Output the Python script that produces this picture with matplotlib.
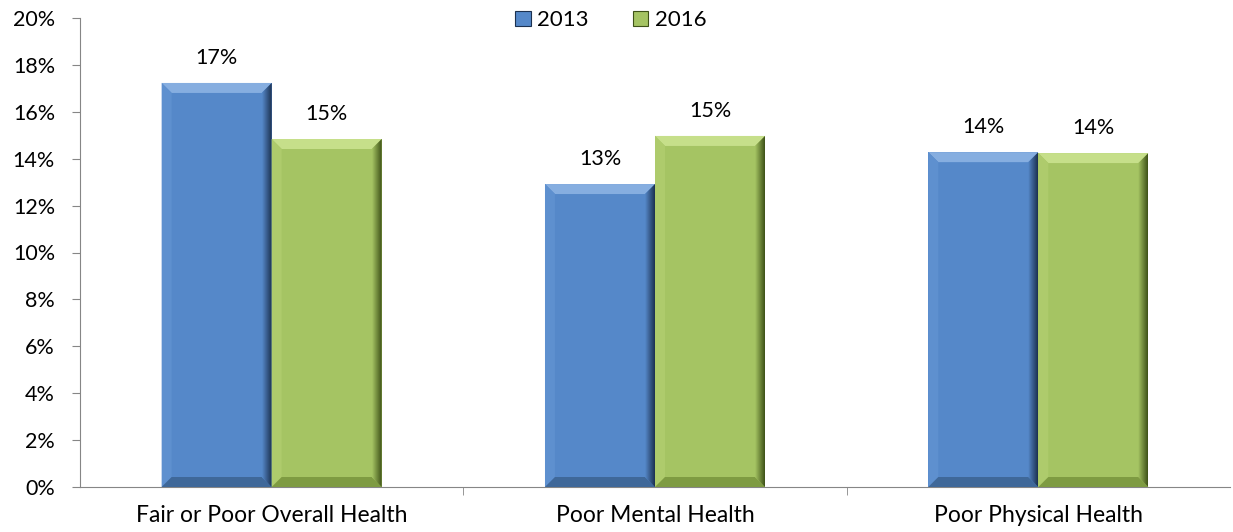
import numpy as np
import matplotlib.pyplot as plt
from matplotlib.patches import Polygon, Patch
from matplotlib.colors import LinearSegmentedColormap
from matplotlib.ticker import FuncFormatter, MultipleLocator

plt.rcParams['font.family'] = ['Lato', 'DejaVu Sans']

categories = ['Fair or Poor Overall Health', 'Poor Mental Health', 'Poor Physical Health']
years = ['2013', '2016']
vals_2013 = [0.1723, 0.1292, 0.1428]
vals_2016 = [0.1484, 0.1497, 0.1424]

face = {'2013': '#5588C9', '2016': '#A5C463'}
light = {'2013': '#86AEE0', '2016': '#C6DF8A'}
side = {'2013': '#5E90CF', '2016': '#AECB6C'}
dark = {'2013': '#1C3150', '2016': '#3E5218'}
bottom_c = {'2013': '#3F6899', '2016': '#7E9B42'}

fig = plt.figure(figsize=(12.33, 5.32), dpi=100)
ax = fig.add_axes([80 / 1233, 45 / 532, 1150 / 1233, 469 / 532])

x = np.arange(len(categories))
w = 0.287
off = 0.1435
dx = 10 / 383.5          # bevel width in data units (~10 px)
dy = 10 / 469 * 0.20     # bevel height in data units (~10 px)


def bevel_bar(xc, h, yr):
    x0, x1 = xc - w / 2, xc + w / 2
    ax.bar(xc, h, w, color=face[yr], zorder=2)
    polys = [
        ([(x0, h), (x1, h), (x1 - dx, h - dy), (x0 + dx, h - dy)], light[yr]),
        ([(x0, 0), (x0, h), (x0 + dx, h - dy), (x0 + dx, dy)], side[yr]),
        ([(x0, 0), (x1, 0), (x1 - dx, dy), (x0 + dx, dy)], bottom_c[yr]),
    ]
    for pts, c in polys:
        ax.add_patch(Polygon(pts, closed=True, facecolor=c, edgecolor='none', zorder=3))
    # right side with a dark gradient
    rp = Polygon([(x1, 0), (x1, h), (x1 - dx, h - dy), (x1 - dx, dy)], closed=True,
                 facecolor='none', edgecolor='none', zorder=3)
    ax.add_patch(rp)
    cmap = LinearSegmentedColormap.from_list('g', [face[yr], dark[yr]])
    im = ax.imshow(np.linspace(0, 1, 50).reshape(1, -1), cmap=cmap, aspect='auto',
                   extent=[x1 - dx, x1, 0, h], zorder=3)
    im.set_clip_path(rp)
    ax.annotate(f'{h * 100:.0f}%', (xc, h), xytext=(0, 14), textcoords='offset points',
                ha='center', va='baseline', fontsize=15.5)


for i in range(len(categories)):
    bevel_bar(x[i] - off, vals_2013[i], '2013')
    bevel_bar(x[i] + off, vals_2016[i], '2016')

ax.set_xlim(-0.5, 2.5)
ax.set_ylim(0, 0.20)
ax.yaxis.set_major_locator(MultipleLocator(0.02))
ax.yaxis.set_major_formatter(FuncFormatter(lambda v, p: f'{v * 100:.0f}%'))
ax.set_xticks(x)
ax.set_xticklabels(categories)
ax.set_xticks([0.5, 1.5], minor=True)
ax.tick_params(axis='x', which='major', length=0, pad=13, labelsize=16.5)
ax.tick_params(axis='x', which='minor', length=6, color='#868686', direction='out')
ax.tick_params(axis='y', length=6, color='#868686', labelsize=15.5, pad=12)
for s in ['top', 'right']:
    ax.spines[s].set_visible(False)
for s in ['left', 'bottom']:
    ax.spines[s].set_color('#868686')

handles = [Patch(facecolor=face[y], edgecolor=dark[y], linewidth=0.8) for y in years]
fig.legend(handles, years, loc='center', bbox_to_anchor=(611 / 1233, 1 - 20 / 532),
           ncol=2, frameon=False, fontsize=16, handlelength=0.68, handleheight=0.68,
           handletextpad=0.3, columnspacing=2.0, borderpad=0)

fig.savefig('out.png', dpi=100)
